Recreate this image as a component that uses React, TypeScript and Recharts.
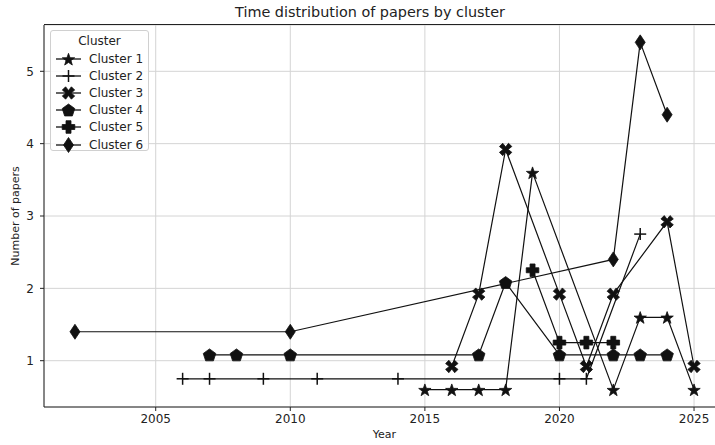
import { LineChart, Line, XAxis, YAxis, CartesianGrid } from 'recharts';

const cluster1Years = [2015, 2016, 2017, 2018, 2019, 2022, 2023, 2024, 2025];
const cluster1Values = [0.6, 0.6, 0.6, 0.6, 3.6, 0.6, 1.6, 1.6, 0.6];
const cluster2Years = [2006, 2007, 2009, 2011, 2014, 2020, 2021, 2023];
const cluster2Values = [0.75, 0.75, 0.75, 0.75, 0.75, 0.75, 0.75, 2.75];
const cluster3Years = [2016, 2017, 2018, 2020, 2021, 2022, 2024, 2025];
const cluster3Values = [0.92, 1.92, 3.92, 1.92, 0.92, 1.92, 2.92, 0.92];
const cluster4Years = [2007, 2008, 2010, 2017, 2018, 2020, 2022, 2023, 2024];
const cluster4Values = [1.08, 1.08, 1.08, 1.08, 2.08, 1.08, 1.08, 1.08, 1.08];
const cluster5Years = [2019, 2020, 2021, 2022];
const cluster5Values = [2.25, 1.25, 1.25, 1.25];
const cluster6Years = [2002, 2010, 2022, 2023, 2024];
const cluster6Values = [1.4, 1.4, 2.4, 5.4, 4.4];

const xTicks = [2005, 2010, 2015, 2020, 2025];
const yTicks = [1, 2, 3, 4, 5];

const FONT = '"DejaVu Sans", sans-serif';
const INK = '#111';

type Shape = 'star' | 'thinPlus' | 'x' | 'pentagon' | 'plus' | 'diamond';

const series: { name: string; shape: Shape; years: number[]; values: number[] }[] = [
  { name: 'Cluster 1', shape: 'star', years: cluster1Years, values: cluster1Values },
  { name: 'Cluster 2', shape: 'thinPlus', years: cluster2Years, values: cluster2Values },
  { name: 'Cluster 3', shape: 'x', years: cluster3Years, values: cluster3Values },
  { name: 'Cluster 4', shape: 'pentagon', years: cluster4Years, values: cluster4Values },
  { name: 'Cluster 5', shape: 'plus', years: cluster5Years, values: cluster5Values },
  { name: 'Cluster 6', shape: 'diamond', years: cluster6Years, values: cluster6Values },
];

function polyPoints(cx: number, cy: number, pts: number[][]) {
  return pts.map(([dx, dy]) => `${cx + dx},${cy + dy}`).join(' ');
}

function Marker({ shape, cx, cy }: { shape: Shape; cx: number; cy: number }) {
  if (shape === 'thinPlus') {
    return (
      <g stroke={INK} strokeWidth={1.5}>
        <line x1={cx - 6} y1={cy} x2={cx + 6} y2={cy} />
        <line x1={cx} y1={cy - 6} x2={cx} y2={cy + 6} />
      </g>
    );
  }
  let pts: number[][] = [];
  if (shape === 'star') {
    for (let i = 0; i < 10; i++) {
      const r = i % 2 === 0 ? 6.5 : 2.6;
      const a = -Math.PI / 2 + (i * Math.PI) / 5;
      pts.push([r * Math.cos(a), r * Math.sin(a) + 0.8]);
    }
  } else if (shape === 'pentagon') {
    for (let i = 0; i < 5; i++) {
      const a = -Math.PI / 2 + (i * 2 * Math.PI) / 5;
      pts.push([6.6 * Math.cos(a), 6.6 * Math.sin(a) + 0.6]);
    }
  } else if (shape === 'plus') {
    const a = 2.5, b = 6.3;
    pts = [[-a, -b], [a, -b], [a, -a], [b, -a], [b, a], [a, a], [a, b], [-a, b], [-a, a], [-b, a], [-b, -a], [-a, -a]];
  } else if (shape === 'x') {
    const s = 6.2, t = 3.3;
    pts = [[-s, -s + t], [-s + t, -s], [0, -t + 0.8], [s - t, -s], [s, -s + t], [t - 0.8, 0], [s, s - t], [s - t, s], [0, t - 0.8], [-s + t, s], [-s, s - t], [-t + 0.8, 0]];
  } else if (shape === 'diamond') {
    pts = [[0, -7.5], [5, 0], [0, 7.5], [-5, 0]];
  }
  return <polygon points={polyPoints(cx, cy, pts)} fill={INK} stroke={INK} strokeWidth={0.8} strokeLinejoin="miter" />;
}

const makeDot = (shape: Shape) => (props: any) => {
  const { cx, cy, index } = props;
  if (cx == null || cy == null) return <g key={`d-${index}`} />;
  return <Marker key={`d-${index}`} shape={shape} cx={cx} cy={cy} />;
};

export default function App() {
  return (
    <div style={{ position: 'absolute', left: 0, top: 0, width: 715, height: 445, overflow: 'hidden', background: '#fff', fontFamily: FONT }}>
      <LineChart width={740} height={445} margin={{ top: 25, right: 15, left: 0, bottom: 0 }}>
        <CartesianGrid stroke="#d4d4d4" strokeWidth={1} />
        <XAxis
          type="number"
          dataKey="x"
          domain={[2000.85, 2026.15]}
          ticks={xTicks}
          allowDataOverflow
          height={38}
          tickSize={4}
          tickMargin={3}
          stroke="#222"
          tick={{ fill: '#222', fontSize: 12, fontFamily: FONT }}
        />
        <YAxis
          type="number"
          dataKey="y"
          domain={[0.36, 5.64]}
          ticks={yTicks}
          allowDataOverflow
          width={44}
          tickSize={4}
          tickMargin={6}
          stroke="#222"
          tick={{ fill: '#222', fontSize: 12, fontFamily: FONT }}
        />
        {series.map((s) => (
          <Line
            key={s.name}
            name={s.name}
            data={s.years.map((x, i) => ({ x, y: s.values[i] }))}
            dataKey="y"
            stroke={INK}
            strokeWidth={1.2}
            dot={makeDot(s.shape)}
            activeDot={false}
            isAnimationActive={false}
          />
        ))}
      </LineChart>
      {/* top spine, matplotlib frame */}
      <div style={{ position: 'absolute', left: 44, top: 24, width: 700, height: 0, borderTop: '1.3px solid #222' }} />
      <div style={{ position: 'absolute', left: 0, right: -25, top: 4, textAlign: 'center', fontSize: 14.4, color: '#222' }}>
        Time distribution of papers by cluster
      </div>
      <div style={{ position: 'absolute', left: 44, width: 681, top: 428, textAlign: 'center', fontSize: 11, color: '#222' }}>
        Year
      </div>
      <div style={{ position: 'absolute', left: 15, top: 216, fontSize: 11, color: '#222', transform: 'translate(-50%, -50%) rotate(-90deg)', whiteSpace: 'nowrap' }}>
        Number of papers
      </div>
      <div style={{ position: 'absolute', left: 50, top: 30, width: 99, height: 121, border: '1px solid #d0d0d0', borderRadius: 3, background: 'rgba(255,255,255,0.85)', boxSizing: 'border-box' }}>
        <div style={{ position: 'absolute', left: 0, right: 0, top: 3, textAlign: 'center', fontSize: 12, color: '#222' }}>Cluster</div>
        {series.map((s, i) => (
          <div key={s.name} style={{ position: 'absolute', left: 4, top: 20 + i * 17.1, height: 16, display: 'flex', alignItems: 'center' }}>
            <svg width={27} height={16} style={{ display: 'block' }}>
              <line x1={1} y1={8} x2={26} y2={8} stroke={INK} strokeWidth={1.3} />
              <Marker shape={s.shape} cx={13.5} cy={8} />
            </svg>
            <span style={{ marginLeft: 7, fontSize: 12, color: '#222', whiteSpace: 'nowrap' }}>{s.name}</span>
          </div>
        ))}
      </div>
    </div>
  );
}
